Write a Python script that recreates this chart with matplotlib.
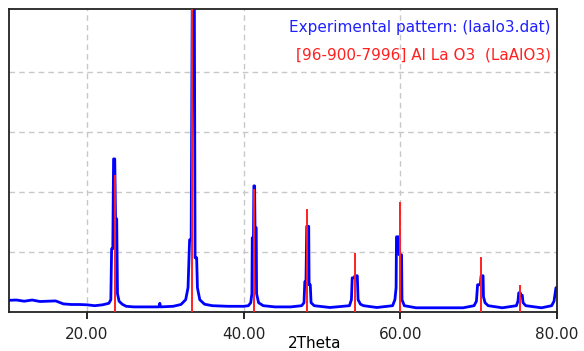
"""XRD pattern of LaAlO3 with reference stick pattern."""

import matplotlib
matplotlib.use("Agg")
import matplotlib.pyplot as plt

# experimental pattern (2theta, intensity in % of full scale)
exp_theta = [10.1, 11.0, 12.0, 13.0, 14.0, 15.0, 16.0, 17.0, 18.0, 19.0, 20.0,
             21.0, 22.0, 22.8, 23.05, 23.15, 23.3, 23.4, 23.55, 23.65, 23.8,
             23.9, 24.1, 24.5, 25.0, 26.0, 27.0, 28.0, 29.2, 29.3, 29.4, 31.0,
             32.0, 32.6, 32.9, 33.1, 33.3, 33.45, 33.7, 33.8, 34.0, 34.1, 34.4,
             35.0, 36.0, 38.0, 40.0, 40.6, 40.9, 41.05, 41.1, 41.25, 41.3, 41.4,
             41.45, 41.6, 41.65, 41.9, 42.5, 44.0, 46.0, 47.4, 47.7, 47.8, 47.95,
             48.05, 48.3, 48.35, 48.5, 48.6, 49.0, 51.0, 53.5, 53.75, 53.85,
             54.1, 54.2, 54.5, 54.6, 54.9, 55.3, 57.0, 59.0, 59.3, 59.45, 59.5,
             59.8, 59.85, 60.15, 60.2, 60.5, 62.0, 65.0, 68.0, 69.4, 69.7, 69.85,
             70.2, 70.3, 70.55, 70.6, 70.8, 71.2, 73.0, 74.8, 75.0, 75.1, 75.3,
             75.35, 75.55, 75.65, 76.0, 78.0, 79.3, 79.6, 79.85, 80.0]
exp_int = [3.8, 3.9, 3.5, 3.9, 3.4, 3.5, 3.6, 2.6, 2.4, 2.4, 2.3,
           2.0, 2.3, 2.8, 4.0, 21.0, 21.0, 51.0, 51.0, 31.0, 31.0,
           6.0, 3.5, 2.5, 1.8, 1.6, 1.6, 1.6, 1.6, 2.8, 1.6, 1.8,
           2.4, 4.0, 8.0, 24.0, 24.0, 110.0, 110.0, 18.0, 18.0, 8.0, 4.0,
           2.5, 2.0, 1.8, 1.8, 2.0, 3.0, 6.0, 24.7, 24.7, 42.0, 42.0,
           28.0, 28.0, 6.0, 3.0, 2.0, 1.6, 1.6, 2.0, 3.0, 10.0, 10.0,
           28.5, 28.5, 9.0, 9.0, 3.0, 2.0, 1.4, 2.0, 4.0, 11.3,
           11.3, 12.0, 12.0, 4.0, 2.5, 2.0, 1.4, 2.0, 4.0, 8.0, 25.0,
           25.0, 19.0, 19.0, 4.0, 2.0, 1.3, 1.3, 1.3, 2.0, 3.5, 9.0,
           9.0, 12.0, 12.0, 5.0, 3.0, 2.0, 1.3, 2.0, 3.5, 6.3, 6.3,
           5.5, 5.5, 3.0, 2.0, 1.3, 2.0, 3.5, 8.0, 8.0]

# reference pattern 96-900-7996 (LaAlO3)
ref_theta = [23.57, 33.43, 41.36, 48.03, 54.23, 59.95, 70.28, 75.25]
ref_int = [45.7, 110.0, 41.0, 34.3, 19.6, 36.7, 18.4, 9.0]

x_ticks = [20, 40, 60, 80]
x_tick_labels = ["20.00", "40.00", "60.00", "80.00"]
y_grid = [20, 40, 60, 80]

fig = plt.figure(figsize=(5.84, 3.51), dpi=100)
ax = fig.add_axes([0.016, 0.112, 0.938, 0.862])

for v in x_ticks:
    ax.axvline(v, color="#c8c8c8", lw=1.0, ls=(0, (4, 3)), zorder=0)
for v in y_grid:
    ax.axhline(v, color="#c8c8c8", lw=1.0, ls=(0, (4, 3)), zorder=0)

ax.plot(exp_theta, exp_int, color="#0000ff", lw=2.0, zorder=2)
ax.vlines(ref_theta, 0, ref_int, color="#ff2020", lw=1.4, zorder=3)

ax.set_xlim(10.1, 80.0)
ax.set_ylim(0, 101)
ax.set_xticks(x_ticks)
ax.set_xticklabels(x_tick_labels, fontsize=11, color="#222222")
ax.set_yticks([])
ax.tick_params(axis="x", direction="out", length=5, width=1.2, pad=6)
for s in ax.spines.values():
    s.set_linewidth(1.3)
    s.set_color("#222222")

ax.text(0.988, 0.94, "Experimental pattern: (laalo3.dat)", color="#2020ff",
        fontsize=11, ha="right", va="center", transform=ax.transAxes)
ax.text(0.988, 0.848, "[96-900-7996] Al La O3  (LaAlO3)", color="#ff2020",
        fontsize=11, ha="right", va="center", transform=ax.transAxes)

fig.text(315 / 584, 1 - 343 / 351, "2Theta", fontsize=11, ha="center",
         va="center", color="black")

fig.savefig("out.png", dpi=100)
plt.close(fig)
